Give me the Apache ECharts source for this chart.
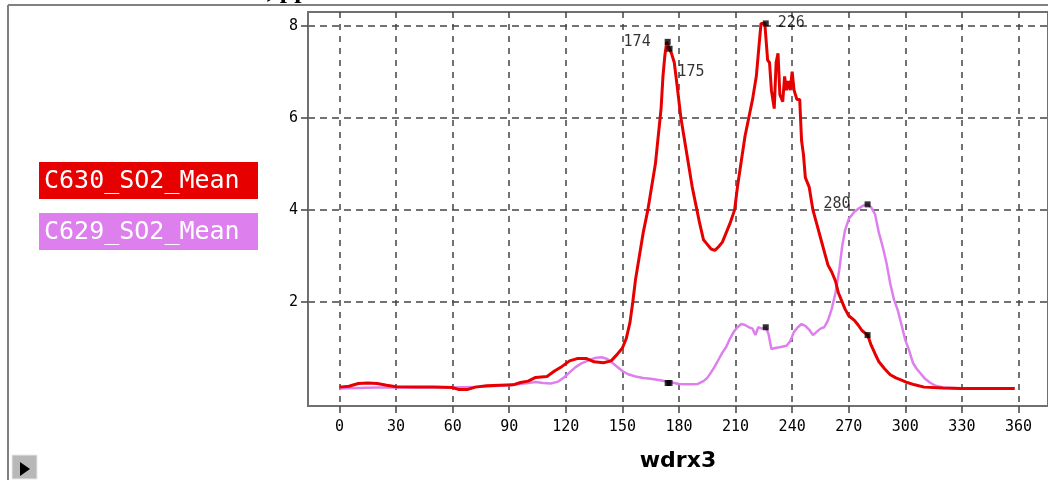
<!DOCTYPE html>
<html>
<head>
<meta charset="utf-8">
<script src="https://cdn.jsdelivr.net/npm/echarts@6/dist/echarts.min.js"></script>
<style>
html,body{margin:0;padding:0;background:#fff;}
#chart{width:1048px;height:480px;}
</style>
</head>
<body>
<div id="chart"></div>
<script>
// ---- data ----
const seriesNames = ['C630_SO2_Mean', 'C629_SO2_Mean'];
const xTicks = [0, 30, 60, 90, 120, 150, 180, 210, 240, 270, 300, 330, 360];
const yTicks = [2, 4, 6, 8];
const xAxisName = 'wdrx3';
const titleText = 'SO2, ppb';

const c630Angles = [0,5,10,15,20,25,30,40,50,60,63,68,72,78,85,92,96,100,104,110,114,118,122,126,131,135,140,144,147,150,152,154,155.5,157,159,161,163.5,165.5,167.5,169,170.5,171.5,172.5,173.5,175,176,177.5,179,181,183,185,187,189.5,191,193,195,197,199,201,203,205,207,209.5,211,213,215,217,219,221,222.5,223.5,225.5,227,228,229,230.5,231.5,232.5,233.5,235,236,237,238,239,240,241,242.5,244,245,246,247,249,251,253,255,257,259,261,263,264.5,266,268,270,273,275,277,280,282,284,286,289,292,295,298,301,305,310,320,330,340,350,358];
const c630Values = [0.15,0.17,0.23,0.24,0.23,0.19,0.16,0.15,0.15,0.14,0.1,0.1,0.15,0.18,0.19,0.2,0.25,0.28,0.36,0.38,0.5,0.6,0.72,0.77,0.77,0.7,0.68,0.72,0.85,1.0,1.2,1.55,2.0,2.5,3.0,3.5,4.0,4.5,5.0,5.6,6.2,6.9,7.35,7.65,7.5,7.4,7.2,6.7,6.0,5.5,5.0,4.5,4.0,3.7,3.35,3.25,3.15,3.12,3.2,3.3,3.5,3.7,4.0,4.5,5.05,5.6,6.0,6.4,6.9,7.6,8.05,8.05,7.25,7.2,6.6,6.2,7.2,7.4,6.5,6.35,6.9,6.6,6.8,6.6,7.0,6.6,6.4,6.4,5.5,5.2,4.7,4.5,4.0,3.7,3.4,3.1,2.8,2.65,2.45,2.2,2.05,1.85,1.7,1.6,1.5,1.38,1.28,1.05,0.87,0.7,0.55,0.42,0.35,0.3,0.25,0.2,0.15,0.13,0.12,0.12,0.12,0.12];

const c629Angles = [0,10,20,30,40,50,60,70,80,90,100,104,108,112,116,119,122,125,128,132,136,139,142,144,147,150,153,157,161,165,170,175,180,185,190,193,195,197,199,201,203,205,207,209,211,213,215,217,219,220.5,222,224,226,227.5,229,231,234,237,239,241,243,245,247,249,251,253,255,257,259,261,263,265,266.5,268,270,273,276,278,280,282,284,286,288,290,292,294,296,298,300,302,304,306,308,310,313,316,320,330,340,350,358];
const c629Values = [0.12,0.13,0.14,0.14,0.14,0.14,0.14,0.15,0.17,0.19,0.24,0.26,0.24,0.23,0.27,0.36,0.47,0.58,0.66,0.73,0.79,0.8,0.76,0.7,0.6,0.5,0.43,0.38,0.35,0.33,0.3,0.26,0.22,0.21,0.22,0.28,0.35,0.47,0.6,0.75,0.9,1.02,1.2,1.35,1.45,1.52,1.5,1.45,1.42,1.28,1.45,1.42,1.45,1.3,0.98,1.0,1.02,1.05,1.15,1.35,1.45,1.52,1.48,1.4,1.28,1.35,1.42,1.45,1.6,1.85,2.2,2.7,3.2,3.55,3.8,3.96,4.05,4.1,4.12,4.05,3.9,3.5,3.2,2.85,2.4,2.05,1.82,1.5,1.17,0.95,0.68,0.55,0.45,0.35,0.25,0.18,0.14,0.12,0.12,0.12,0.12];

// highlighted (probed) points
const c630MarkAngles = [174, 175, 226, 280];
const c630MarkValues = [7.65, 7.5, 8.05, 1.28];
const c630MarkLabels = ['174', '175', '226', ''];
const c629MarkAngles = [174, 175, 226, 280];
const c629MarkValues = [0.24, 0.24, 1.45, 4.12];
const c629MarkLabels = ['', '', '', '280'];

// ---- chart ----
const RED = '#e60000';
const PINK = '#dd80ee';
const zip = (a, b) => a.map((v, i) => [v, b[i]]);
const labelPos = {
  '174': {position: 'left', distance: 14},
  '175': {position: [11, 19], align: 'left', verticalAlign: 'top'},
  '226': {position: 'right', distance: 9},
  '280': {position: 'left', distance: 14}
};
function markData(angles, values, labels) {
  return angles.map((a, i) => {
    const d = {value: [a, values[i]]};
    if (labels[i]) {
      d.label = Object.assign({show: true, formatter: labels[i]}, labelPos[labels[i]]);
    }
    return d;
  });
}

const chart = echarts.init(document.getElementById('chart'), null, {renderer: 'canvas'});
const monoFont = '"DejaVu Sans Mono", monospace';

chart.setOption({
  animation: false,
  backgroundColor: '#fff',
  grid: {left: 308, top: 12, width: 752, height: 394, show: true, borderColor: '#707070', borderWidth: 2, backgroundColor: '#fff'},
  xAxis: {
    type: 'value', min: -16.7, max: 375.65,
    name: xAxisName, nameLocation: 'middle', nameGap: 44,
    nameTextStyle: {fontFamily: '"DejaVu Sans"', fontWeight: 'bold', fontSize: 22, color: '#000'},
    axisLine: {show: true, onZero: false, lineStyle: {color: '#707070', width: 2}},
    axisTick: {show: true, customValues: xTicks, length: 7, lineStyle: {color: '#444', width: 1.5}},
    axisLabel: {customValues: xTicks, margin: 14, fontFamily: monoFont, fontSize: 15, color: '#000'},
    splitLine: {show: true, lineStyle: {color: '#444', width: 1.5, type: [6, 6]}}
  },
  yAxis: {
    type: 'value', min: -0.26, max: 8.298,
    axisLine: {show: true, onZero: false, lineStyle: {color: '#707070', width: 2}},
    axisTick: {show: true, customValues: yTicks, length: 7, lineStyle: {color: '#444', width: 1.5}},
    axisLabel: {customValues: yTicks, margin: 10, fontFamily: monoFont, fontSize: 15, color: '#000'},
    splitLine: {show: true, lineStyle: {color: '#444', width: 1.5, type: [7, 5]}}
  },
  series: [
    {name: seriesNames[1], type: 'line', data: zip(c629Angles, c629Values), showSymbol: false, symbol: 'none',
     lineStyle: {color: PINK, width: 2.5}, z: 3},
    {name: seriesNames[0], type: 'line', data: zip(c630Angles, c630Values), showSymbol: false, symbol: 'none',
     lineStyle: {color: RED, width: 3}, z: 4},
    {type: 'scatter', data: markData(c629MarkAngles, c629MarkValues, c629MarkLabels), symbol: 'rect', symbolSize: 6,
     itemStyle: {color: '#000'}, z: 6,
     label: {show: false, fontFamily: monoFont, fontSize: 15, color: '#000'}},
    {type: 'scatter', data: markData(c630MarkAngles, c630MarkValues, c630MarkLabels), symbol: 'rect', symbolSize: 6,
     itemStyle: {color: '#000'}, z: 6,
     label: {show: false, fontFamily: monoFont, fontSize: 15, color: '#000'}}
  ],
  graphic: [
    {type: 'text', x: 219, y: -9, style: {text: titleText, font: 'bold 26px "Liberation Serif"', fill: '#000', verticalAlign: 'middle'}},
    {type: 'line', shape: {x1: 8, y1: 5, x2: 1048, y2: 5}, style: {stroke: '#808080', lineWidth: 2}},
    {type: 'line', shape: {x1: 8, y1: 5, x2: 8, y2: 480}, style: {stroke: '#808080', lineWidth: 2}},
    {type: 'rect', shape: {x: 39, y: 162, width: 219, height: 37}, style: {fill: RED}},
    {type: 'text', x: 44, y: 181, style: {text: seriesNames[0], font: '25px "DejaVu Sans Mono"', fill: '#fff', verticalAlign: 'middle'}},
    {type: 'rect', shape: {x: 39, y: 213, width: 219, height: 37}, style: {fill: PINK}},
    {type: 'text', x: 44, y: 232, style: {text: seriesNames[1], font: '25px "DejaVu Sans Mono"', fill: '#fff', verticalAlign: 'middle'}},
    {type: 'rect', shape: {x: 12, y: 455, width: 25, height: 24}, style: {fill: '#b8b8b8', stroke: '#e8e8e8', lineWidth: 1}},
    {type: 'polygon', shape: {points: [[20, 462], [20, 476], [30, 469]]}, style: {fill: '#000'}}
  ]
});
</script>
</body>
</html>
